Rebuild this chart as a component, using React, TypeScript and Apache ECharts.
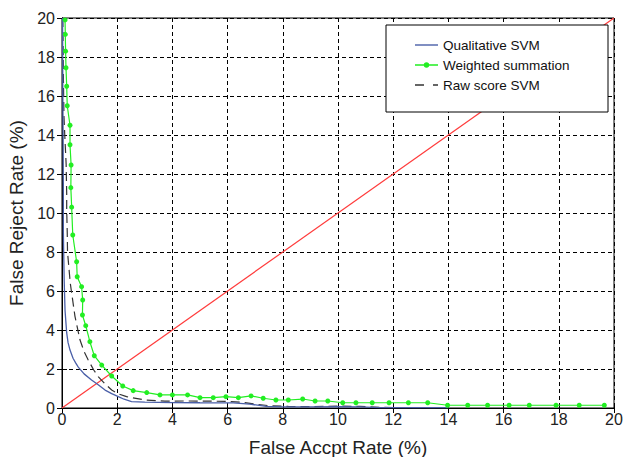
import React, { useEffect, useRef } from "react";
import * as echarts from "echarts";

const xTicks = [0, 2, 4, 6, 8, 10, 12, 14, 16, 18, 20];
const yTicks = [0, 2, 4, 6, 8, 10, 12, 14, 16, 18, 20];

const seriesNames = ["Qualitative SVM", "Weighted summation", "Raw score SVM"];

const qualitativeSVM: [number, number][] = [
  [0.02, 20], [0.03, 16], [0.04, 14], [0.05, 11], [0.05, 9], [0.06, 8.1], [0.08, 6.5],
  [0.11, 5.0], [0.17, 3.85], [0.22, 3.35], [0.29, 2.97], [0.4, 2.55], [0.5, 2.3],
  [0.59, 2.1], [0.8, 1.75], [1.07, 1.44], [1.3, 1.2], [1.56, 0.92], [1.8, 0.74],
  [2.04, 0.58], [2.25, 0.45], [2.52, 0.33], [3, 0.3], [4, 0.28], [5, 0.27], [6.2, 0.26],
  [6.8, 0.2], [7.4, 0.08], [8, 0.06], [9, 0.06], [10, 0.07], [10.8, 0.06], [11.5, 0.02],
  [14, 0.02],
];

const weightedSummation: [number, number][] = [
  [0.11, 19.9], [0.12, 19.16], [0.13, 18.3], [0.145, 17.45], [0.17, 16.5], [0.19, 15.5],
  [0.29, 14.5], [0.29, 13.5], [0.33, 12.46], [0.32, 11.3], [0.35, 10.3], [0.39, 8.87],
  [0.53, 7.5], [0.55, 6.73], [0.71, 6.22], [0.75, 5.54], [0.74, 4.77], [0.86, 4.22],
  [1.01, 3.4], [1.17, 2.68], [1.44, 2.2], [1.8, 1.64], [2.2, 1.13], [2.58, 0.89],
  [3.07, 0.79], [3.55, 0.67], [4.0, 0.67], [4.55, 0.67], [5.0, 0.53], [5.48, 0.53],
  [5.94, 0.58], [6.39, 0.53], [6.85, 0.62], [7.29, 0.5], [7.75, 0.41], [8.2, 0.41],
  [8.72, 0.46], [9.17, 0.36], [9.63, 0.36], [10.17, 0.27], [10.65, 0.27], [11.24, 0.27],
  [11.85, 0.27], [12.55, 0.27], [13.25, 0.27], [13.97, 0.14], [14.7, 0.14], [15.42, 0.14],
  [16.2, 0.14], [16.93, 0.14], [17.9, 0.14], [18.74, 0.14], [19.65, 0.14],
];

const rawScoreSVM: [number, number][] = [
  [0.03, 20], [0.05, 17], [0.07, 15], [0.1, 14], [0.15, 12.5], [0.17, 11], [0.17, 10.2],
  [0.19, 9], [0.2, 8], [0.25, 7.2], [0.3, 6.4], [0.35, 5.9], [0.47, 4.7], [0.65, 3.5],
  [0.8, 2.9], [0.95, 2.46], [1.15, 1.95], [1.32, 1.6], [1.55, 1.25], [1.8, 0.92],
  [2.05, 0.72], [2.34, 0.58], [3.0, 0.41], [3.73, 0.35], [4.5, 0.36], [5.3, 0.35],
  [6.0, 0.34], [6.5, 0.3], [7.0, 0.2], [7.5, 0.12], [8.2, 0.08], [9, 0.07], [10, 0.1],
  [10.8, 0.08], [11.5, 0.03], [13, 0.02], [14, 0.01],
];

const diagonal: [number, number][] = [[0, 0], [20, 20]];

const ICON_SOLID = "path://M0,0 H23 V1.4 H0 Z";
const ICON_MARKER = "path://M0,2 H23 V3.4 H0 Z M8.8,2.7 A2.7,2.7 0 1 1 14.2,2.7 A2.7,2.7 0 1 1 8.8,2.7 Z";
const ICON_DASHED = "path://M0,0 H9 V1.4 H0 Z M18,0 H23 V1.4 H18 Z";

export default function App() {
  const ref = useRef<HTMLDivElement>(null);
  useEffect(() => {
    if (!ref.current) return;
    const chart = echarts.init(ref.current, undefined, { renderer: "svg" });
    const font = "'Liberation Sans', Arial, sans-serif";
    const baseAxis = {
      type: "value" as const,
      min: xTicks[0],
      max: xTicks[xTicks.length - 1],
      interval: 2,
    };
    const tick = { show: true, inside: true, length: 5, lineStyle: { color: "#000" } };
    const line = { show: true, lineStyle: { color: "#000", width: 1 } };
    const grid = { show: true, lineStyle: { color: "#000", type: [4, 3], width: 1 } };
    chart.setOption({
      animation: false,
      backgroundColor: "#fff",
      grid: {
        left: 62, right: 9, top: 18, bottom: 49,
        outerBoundsMode: "none", containLabel: false,
        show: true, borderColor: "#000", borderWidth: 1,
      },
      xAxis: [
        {
          ...baseAxis,
          position: "bottom",
          name: "False Accpt Rate (%)",
          nameLocation: "middle",
          nameGap: 30,
          nameTextStyle: { fontSize: 19, color: "#222", fontFamily: font },
          axisLine: line,
          axisTick: tick,
          axisLabel: { fontSize: 16, color: "#222", fontFamily: font, margin: 3 },
          splitLine: grid,
        },
        {
          ...baseAxis,
          position: "top",
          axisLine: line,
          axisTick: tick,
          axisLabel: { show: false },
          splitLine: { show: false },
        },
      ],
      yAxis: [
        {
          ...baseAxis,
          min: yTicks[0],
          max: yTicks[yTicks.length - 1],
          position: "left",
          name: "False Reject Rate (%)",
          nameLocation: "middle",
          nameGap: 36,
          nameTextStyle: { fontSize: 19, color: "#222", fontFamily: font },
          axisLine: line,
          axisTick: tick,
          axisLabel: { fontSize: 16, color: "#222", fontFamily: font, margin: 7 },
          splitLine: grid,
        },
        {
          ...baseAxis,
          min: yTicks[0],
          max: yTicks[yTicks.length - 1],
          position: "right",
          axisLine: line,
          axisTick: tick,
          axisLabel: { show: false },
          splitLine: { show: false },
        },
      ],
      graphic: [
        {
          type: "rect",
          z: 50,
          shape: { x: 386, y: 25, width: 222, height: 87 },
          style: { fill: "#fff", stroke: "#000", lineWidth: 1 },
        },
      ],
      legend: {
        z: 60,
        orient: "vertical",
        left: 410,
        top: 33,
        itemWidth: 23,
        itemHeight: 14,
        itemGap: 6,
        symbolKeepAspect: true,
        data: [
          { name: seriesNames[0], icon: ICON_SOLID },
          { name: seriesNames[1], icon: ICON_MARKER },
          { name: seriesNames[2], icon: ICON_DASHED },
        ],
        textStyle: { fontSize: 13.5, color: "#111", fontFamily: font },
      },
      series: [
        {
          name: "diag",
          type: "line",
          data: diagonal,
          showSymbol: false,
          lineStyle: { color: "#ff3b3b", width: 1.2 },
          itemStyle: { color: "#ff3b3b" },
          silent: true,
        },
        {
          name: seriesNames[1],
          type: "line",
          data: weightedSummation,
          symbol: "circle",
          symbolSize: 5,
          showSymbol: true,
          lineStyle: { color: "#22ee22", width: 1.2 },
          itemStyle: { color: "#22ee22" },
        },
        {
          name: seriesNames[2],
          type: "line",
          data: rawScoreSVM,
          showSymbol: false,
          symbol: "none",
          lineStyle: { color: "#333", width: 1.2, type: [9, 5] },
          itemStyle: { color: "#333" },
        },
        {
          name: seriesNames[0],
          type: "line",
          data: qualitativeSVM,
          showSymbol: false,
          symbol: "none",
          lineStyle: { color: "#4a5fa8", width: 1.3 },
          itemStyle: { color: "#4a5fa8" },
        },
      ],
    });
    return () => chart.dispose();
  }, []);
  return <div ref={ref} style={{ position: "fixed", left: 0, top: 0, width: 623, height: 457 }} />;
}
